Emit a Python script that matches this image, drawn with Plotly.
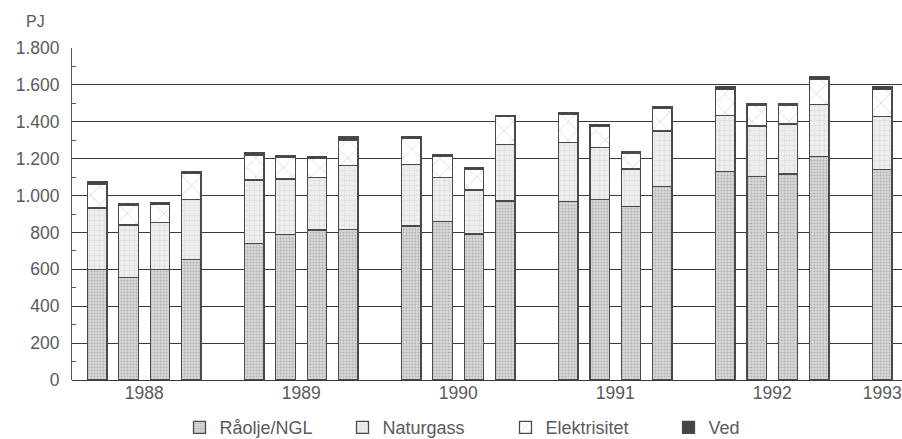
import plotly.graph_objects as go

years = [1988]*4 + [1989]*4 + [1990]*4 + [1991]*4 + [1992]*4 + [1993]
quarters = [1, 2, 3, 4]*5 + [1]

raolje = [600, 555, 600, 654, 741, 790, 813, 817, 835, 858, 791, 970,
          968, 979, 939, 1048, 1129, 1102, 1117, 1210, 1142]
naturgass = [332, 285, 253, 325, 343, 299, 284, 345, 334, 239, 239, 307,
             320, 282, 205, 302, 304, 275, 271, 284, 287]
elektrisitet = [130, 108, 100, 141, 136, 120, 105, 139, 141, 113, 112, 150,
                152, 114, 86, 123, 143, 114, 103, 137, 147]
ved = [13, 7, 8, 11, 12, 9, 10, 16, 12, 13, 9, 6,
       11, 11, 10, 8, 14, 10, 9, 15, 17]

series_names = ["Råolje/NGL", "Naturgass", "Elektrisitet", "Ved"]
year_labels = ["1988", "1989", "1990", "1991", "1992", "1993"]

# one empty slot between years
xpos = [(y - 1988) * 5 + (q - 1) for y, q in zip(years, quarters)]
tickvals = []
for yl in year_labels:
    pts = [p for p, y in zip(xpos, years) if str(y) == yl]
    tickvals.append(sum(pts) / len(pts))

FONT = "Liberation Sans"
TXT = "#5a5a5a"
LINE = dict(color="#4a4a4a", width=1.3)

styles = [
    dict(color="#cfcfcf", line=LINE,
         pattern=dict(shape=".", fgcolor="#8a8a8a", bgcolor="#dadada", size=3, solidity=0.4)),
    dict(color="#ececec", line=LINE,
         pattern=dict(shape="+", fgcolor="#d2d2d2", bgcolor="#eeeeee", size=5, solidity=0.3)),
    dict(color="#ffffff", line=LINE,
         pattern=dict(shape="x", fgcolor="#8a8a8a", bgcolor="#ffffff", size=13, solidity=0.08)),
    dict(color="#444444", line=LINE),
]

fig = go.Figure()
for name, vals, st in zip(series_names, [raolje, naturgass, elektrisitet, ved], styles):
    fig.add_trace(go.Bar(x=xpos, y=vals, name=name, marker=st, width=0.62))

fig.update_layout(
    barmode="stack",
    width=902, height=439,
    margin=dict(l=72, r=0, t=48, b=59, autoexpand=False),
    paper_bgcolor="white", plot_bgcolor="white",
    separators=",.",
    font=dict(family=FONT, size=17, color=TXT),
    showlegend=True,
    legend=dict(orientation="h", xref="container", yref="container",
                x=0.199, y=0.026, xanchor="left", yanchor="middle",
                traceorder="normal",
                entrywidth=118, entrywidthmode="pixels",
                font=dict(family=FONT, size=18, color=TXT),
                itemwidth=30, bgcolor="rgba(0,0,0,0)"),
    annotations=[dict(text="PJ", xref="paper", yref="paper", x=-0.0445, y=1.08,
                      xanchor="center", yanchor="middle", showarrow=False,
                      font=dict(family=FONT, size=16, color=TXT))],
)
fig.update_xaxes(range=[-0.8, 25.63], tickmode="array", tickvals=tickvals,
                 ticktext=year_labels, showgrid=False, zeroline=False,
                 showline=False, ticks="", tickfont=dict(size=17.5),
                 automargin=False, ticklabeloverflow="allow")
fig.update_yaxes(range=[0, 1800], dtick=200, tickformat=",", showgrid=True,
                 gridcolor="#3a3a3a", gridwidth=1, zeroline=True,
                 zerolinecolor="#3a3a3a", zerolinewidth=1,
                 showline=True, linecolor="#555555", linewidth=1, ticks="",
                 ticklabelstandoff=8, automargin=False,
                 tickfont=dict(size=17.5),
                 minor=dict(dtick=100, ticks="inside", ticklen=4,
                            tickcolor="#555555", showgrid=False))

fig.write_html("out.html", config={"displayModeBar": False},
               post_script="document.body.style.margin='0';")
